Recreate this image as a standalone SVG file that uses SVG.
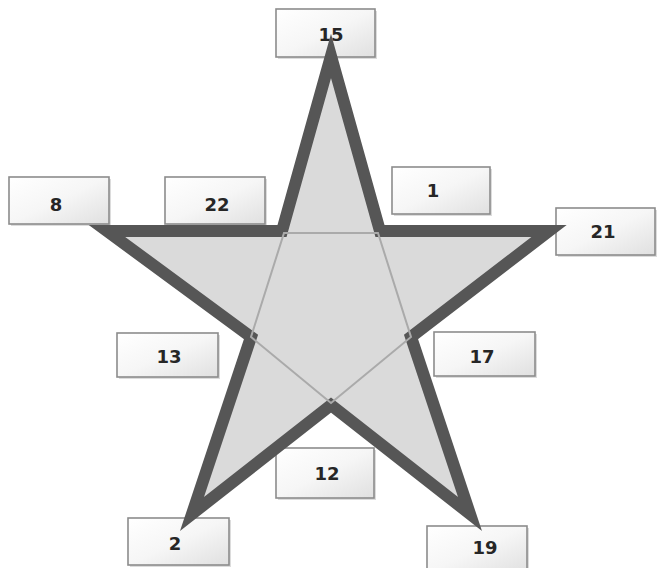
<svg xmlns="http://www.w3.org/2000/svg" width="657" height="568" viewBox="0 0 657 568">
<defs>
<linearGradient id="bg" x1="0" y1="0" x2="1" y2="1">
<stop offset="0" stop-color="#ffffff"/>
<stop offset="0.5" stop-color="#f6f6f6"/>
<stop offset="1" stop-color="#e0e0e0"/>
</linearGradient>
</defs>
<style>
.box{fill:url(#bg);stroke:#8c8c8c;stroke-width:1.6}
.sh{fill:#dcdcdc}
.lbl{font-family:"DejaVu Sans",sans-serif;font-size:18px;font-weight:bold;fill:#262626;text-anchor:middle}
.star{fill:#dadada;stroke:#565656;stroke-width:12;stroke-linejoin:miter;stroke-miterlimit:6}
.inner{fill:none;stroke:#aaaaaa;stroke-width:2}
</style>
<rect width="657" height="568" fill="#ffffff"/>
<g id="n15"><rect class="sh" x="278" y="11" width="99" height="48"/><rect class="box" x="276" y="9" width="99" height="48"/><text class="lbl" x="331" y="41">15</text></g>
<g id="n8"><rect class="sh" x="11" y="179" width="100" height="47"/><rect class="box" x="9" y="177" width="100" height="47"/><text class="lbl" x="56" y="211">8</text></g>
<g id="n22"><rect class="sh" x="167" y="179" width="100" height="47"/><rect class="box" x="165" y="177" width="100" height="47"/><text class="lbl" x="217" y="211">22</text></g>
<g id="n1"><rect class="sh" x="394" y="169" width="98" height="47"/><rect class="box" x="392" y="167" width="98" height="47"/><text class="lbl" x="433" y="197">1</text></g>
<g id="n21"><rect class="sh" x="558" y="210" width="99" height="47"/><rect class="box" x="556" y="208" width="99" height="47"/><text class="lbl" x="603" y="238">21</text></g>
<g id="n13"><rect class="sh" x="119" y="335" width="101" height="44"/><rect class="box" x="117" y="333" width="101" height="44"/><text class="lbl" x="169" y="363">13</text></g>
<g id="n17"><rect class="sh" x="436" y="334" width="101" height="44"/><rect class="box" x="434" y="332" width="101" height="44"/><text class="lbl" x="482" y="363">17</text></g>
<g id="n12"><rect class="sh" x="278" y="450" width="98" height="50"/><rect class="box" x="276" y="448" width="98" height="50"/><text class="lbl" x="327" y="480">12</text></g>
<g id="n2"><rect class="sh" x="130" y="520" width="101" height="47"/><rect class="box" x="128" y="518" width="101" height="47"/><text class="lbl" x="175" y="550">2</text></g>
<g id="n19"><rect class="sh" x="429" y="528" width="100" height="47"/><rect class="box" x="427" y="526" width="100" height="47"/><text class="lbl" x="485" y="554">19</text></g>
<g id="star">
<polygon class="star" points="331,56 380,231 549,231 411,337 470,514 331,405 192,514 251,337 107,231 282,231"/>
<polygon class="inner" points="284,233 378,233 411,337 331,403 251,337"/>
</g>
</svg>
